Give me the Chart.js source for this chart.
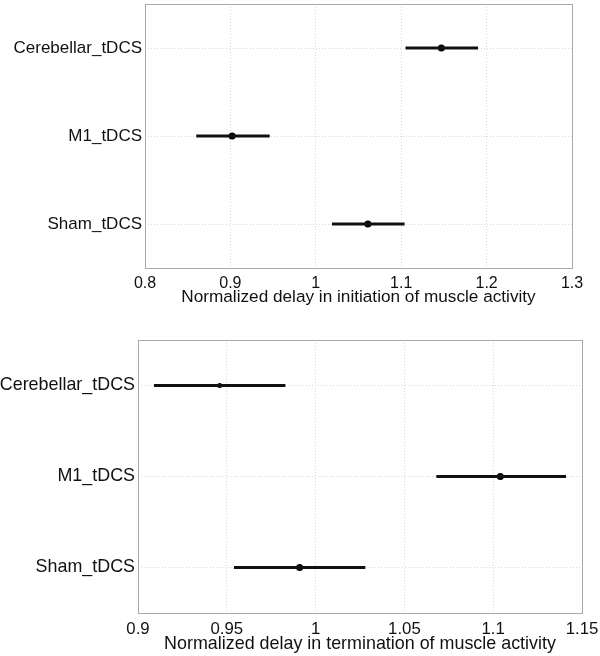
<!DOCTYPE html>
<html>
<head>
<meta charset="utf-8">
<script src="https://cdn.jsdelivr.net/npm/chart.js@4"></script>
<style>
  html, body { margin: 0; padding: 0; background: #fff; }
  #wrap { position: relative; width: 600px; height: 656px; }
  .box { position: absolute; left: 0; width: 600px; }
</style>
</head>
<body>
<div id="wrap">
  <div class="box" style="top:0;height:320px"><canvas id="c1"></canvas></div>
  <div class="box" style="top:320px;height:336px"><canvas id="c2"></canvas></div>
</div>
<script>
// ---- data ----
const categories = ['Cerebellar_tDCS', 'M1_tDCS', 'Sham_tDCS'];

const initiationMean = [1.147, 0.902, 1.061];
const initiationLow  = [1.105, 0.860, 1.019];
const initiationHigh = [1.190, 0.946, 1.104];
const initiationTicks = [0.8, 0.9, 1.0, 1.1, 1.2, 1.3];
const initiationTitle = 'Normalized delay in initiation of muscle activity';

const terminationMean = [0.946, 1.104, 0.991];
const terminationLow  = [0.909, 1.068, 0.954];
const terminationHigh = [0.983, 1.141, 1.028];
const terminationTicks = [0.9, 0.95, 1.0, 1.05, 1.1, 1.15];
const terminationTitle = 'Normalized delay in termination of muscle activity';

// ---- drawing ----
const FONT = "'Liberation Sans', Arial, sans-serif";
const frame = {
  id: 'frame',
  afterDraw(chart) {
    const a = chart.chartArea, ctx = chart.ctx;
    ctx.save();
    ctx.strokeStyle = '#a8a8a8';
    ctx.lineWidth = 1;
    ctx.strokeRect(Math.round(a.left) + 0.5, Math.round(a.top) + 0.5,
                   Math.round(a.right - a.left), Math.round(a.bottom - a.top));
    ctx.restore();
  }
};

function fmt(v) { return String(Number(v.toFixed(2))); }

function build(id, opts) {
  const datasets = [];
  categories.forEach((c, i) => {
    datasets.push({
      data: [{x: opts.low[i], y: i + 1}, {x: opts.high[i], y: i + 1}],
      borderColor: '#111', borderWidth: 3, pointRadius: 0, borderCapStyle: 'butt'
    });
  });
  datasets.push({
    data: categories.map((c, i) => ({x: opts.mean[i], y: i + 1})),
    showLine: false, pointRadius: opts.radii, pointBackgroundColor: '#000',
    pointBorderColor: '#000', pointBorderWidth: 0
  });
  new Chart(document.getElementById(id), {
    type: 'line',
    data: { datasets },
    plugins: [frame],
    options: {
      responsive: true, maintainAspectRatio: false, animation: false,
      layout: { padding: opts.pad },
      plugins: { legend: { display: false }, tooltip: { enabled: false } },
      scales: {
        x: {
          type: 'linear',
          min: opts.ticks[0], max: opts.ticks[opts.ticks.length - 1],
          afterBuildTicks: s => { s.ticks = opts.ticks.map(v => ({value: v})); },
          afterFit: s => { s.height = opts.xAxisH; s.paddingLeft = 0; s.paddingRight = 0; },
          grid: { color: '#d8d8d8', drawTicks: false, lineWidth: 1 },
          border: { display: false, dash: [1, 2] },
          ticks: { color: '#111', font: { family: FONT, size: opts.xTickSize }, padding: opts.tickPad, callback: v => fmt(v), maxRotation: 0 },
          title: { display: true, text: opts.title, color: '#111', font: { family: FONT, size: opts.titleSize }, padding: { top: 0, bottom: opts.titlePad } }
        },
        y: {
          type: 'linear', reverse: true, min: 0.5, max: 3.5,
          afterBuildTicks: s => { s.ticks = categories.map((c, i) => ({value: i + 1})); },
          afterFit: s => { s.width = opts.yAxisW; s.paddingTop = 0; s.paddingBottom = 0; },
          grid: { color: '#d8d8d8', drawTicks: false, lineWidth: 1 },
          border: { display: false, dash: [1, 2] },
          ticks: { color: '#111', font: { family: FONT, size: opts.yTickSize }, padding: 3, callback: v => categories[v - 1] }
        }
      }
    }
  });
}

Chart.defaults.elements.line.tension = 0;

build('c1', {
  mean: initiationMean, low: initiationLow, high: initiationHigh,
  ticks: initiationTicks, title: initiationTitle, radii: [3.5, 3.5, 3.5],
  pad: { left: 0, right: 28, top: 2, bottom: 0 },
  yAxisW: 145, xAxisH: 52, tickPad: 6, titlePad: 12,
  xTickSize: 16, yTickSize: 17, titleSize: 17.2
});
build('c2', {
  mean: terminationMean, low: terminationLow, high: terminationHigh,
  ticks: terminationTicks, title: terminationTitle, radii: [2.5, 3.5, 3.5],
  pad: { left: 0, right: 18, top: 20, bottom: 0 },
  yAxisW: 138, xAxisH: 43, tickPad: 6, titlePad: 1,
  xTickSize: 16.8, yTickSize: 17.9, titleSize: 17.9
});
</script>
</body>
</html>
